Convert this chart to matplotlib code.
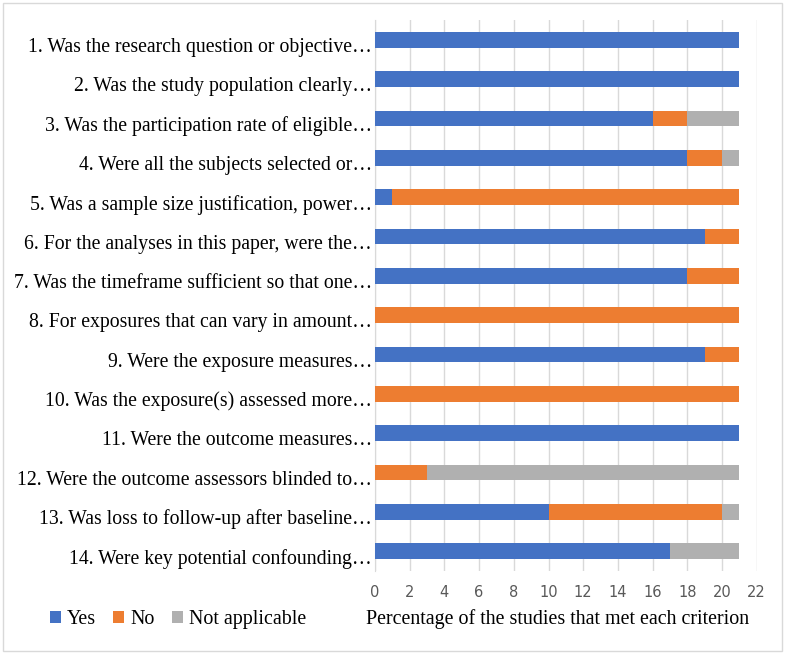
import matplotlib
matplotlib.use("Agg")
import matplotlib.pyplot as plt
from matplotlib.patches import Rectangle
from matplotlib.transforms import ScaledTranslation
import numpy as np

categories = [
    "1. Was the research question or objective…",
    "2. Was the study population clearly…",
    "3. Was the participation rate of eligible…",
    "4. Were all the subjects selected or…",
    "5. Was a sample size justification, power…",
    "6. For the analyses in this paper, were the…",
    "7. Was the timeframe sufficient so that one…",
    "8. For exposures that can vary in amount…",
    "9. Were the exposure measures…",
    "10. Was the exposure(s) assessed more…",
    "11. Were the outcome measures…",
    "12. Were the outcome assessors blinded to…",
    "13. Was loss to follow-up after baseline…",
    "14. Were key potential confounding…",
]
yes = [21, 21, 16, 18, 1, 19, 18, 0, 19, 0, 21, 0, 10, 17]
no = [0, 0, 2, 2, 20, 2, 3, 21, 2, 21, 0, 3, 10, 0]
na = [0, 0, 3, 1, 0, 0, 0, 0, 0, 0, 0, 18, 1, 4]
series_names = ["Yes", "No", "Not applicable"]
colors = ["#4472C4", "#ED7D31", "#B0B0B0"]
xticks = list(range(0, 23, 2))

fig = plt.figure(figsize=(7.85, 6.54), dpi=100)
ax = fig.add_axes([0.4777, 0.127, 0.964 - 0.4777, 0.969 - 0.127])

y = np.arange(len(categories))
yes_a = np.array(yes, float)
no_a = np.array(no, float)
na_a = np.array(na, float)
h = 0.40
ax.barh(y, yes_a, height=h, color=colors[0], label=series_names[0], zorder=3)
ax.barh(y, no_a, left=yes_a, height=h, color=colors[1], label=series_names[1], zorder=3)
ax.barh(y, na_a, left=yes_a + no_a, height=h, color=colors[2], label=series_names[2], zorder=3)

ax.set_ylim(len(categories) - 0.5, -0.5)
ax.set_xlim(0, 22)
ax.set_xticks(xticks)
ax.set_xticklabels([str(t) for t in xticks], fontsize=10.5, color="#595959", family="DejaVu Sans")
ax.set_yticks(y)
ax.set_yticklabels(categories, fontsize=14.2, family="Liberation Serif", color="black")
ax.tick_params(axis="both", length=0)
ax.tick_params(axis="x", pad=10)
ax.tick_params(axis="y", pad=2)
off = ScaledTranslation(0, -0.05, fig.dpi_scale_trans)
for lab in ax.get_yticklabels():
    lab.set_transform(lab.get_transform() + off)
ax.grid(axis="x", color="#D9D9D9", linewidth=1, zorder=0)
for s in ["top", "right", "bottom"]:
    ax.spines[s].set_visible(False)
ax.spines["left"].set_color("#D9D9D9")

fig.text(0.71, 0.053, "Percentage of the studies that met each criterion",
         ha="center", va="center", fontsize=14.4, family="Liberation Serif")

leg = fig.legend(loc="center left", bbox_to_anchor=(0.064, 0.053), ncol=3, frameon=False,
                 prop={"family": "Liberation Serif", "size": 14.4},
                 handlelength=0.55, handleheight=0.55, handletextpad=0.3, columnspacing=0.85,
                 borderaxespad=0, borderpad=0)

fig.patches.append(Rectangle((0.004, 0.005), 0.992, 0.99, transform=fig.transFigure,
                             fill=False, edgecolor="#D9D9D9", linewidth=1))

fig.savefig("out.png", dpi=100)
